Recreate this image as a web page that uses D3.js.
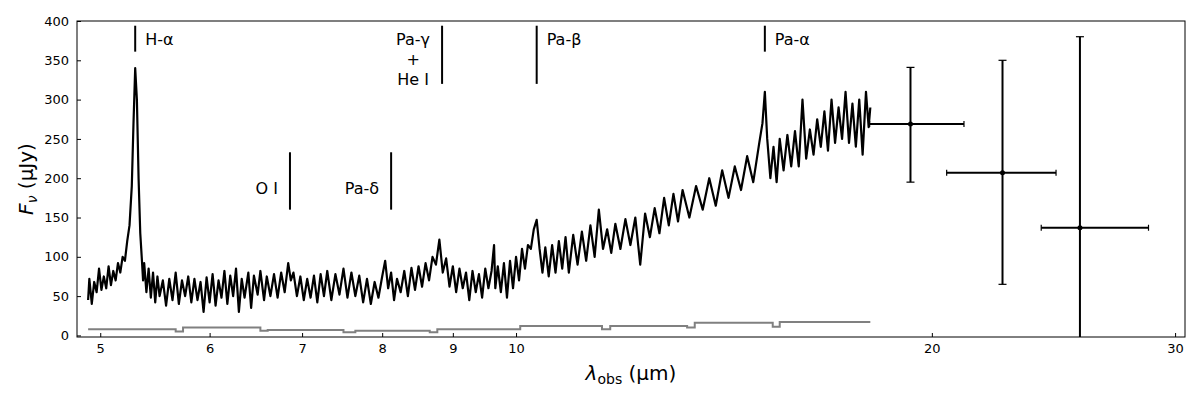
<!DOCTYPE html>
<html><head><meta charset="utf-8">
<script src="https://cdn.jsdelivr.net/npm/d3@7"></script>
<style>body{margin:0;background:#fff}text{font-family:"DejaVu Sans",sans-serif}</style>
</head><body><svg id="c" width="1200" height="400"></svg>
<script>
// spectrum as [wavelength um, flux uJy]
let spec = [
[4.90,45],[4.91,72],[4.93,40],[4.95,68],[4.97,55],[4.99,85],[5.01,58],[5.03,75],[5.05,60],[5.07,88],[5.09,64],[5.11,82],[5.13,70],[5.15,92],[5.17,80],[5.19,100],[5.21,95],[5.23,120],[5.25,140],[5.27,190],[5.285,270],[5.30,340],[5.315,300],[5.33,200],[5.345,130],[5.36,95],[5.37,70],[5.38,92],[5.40,55],[5.42,85],[5.44,48],[5.46,80],[5.48,42],[5.50,75],[5.52,50],[5.55,70],[5.58,38],[5.61,72],[5.64,45],[5.67,80],[5.70,40],[5.73,70],[5.76,50],[5.79,75],[5.82,42],[5.85,72],[5.88,45],[5.91,68],[5.94,30],[5.97,74],[6.00,42],[6.03,78],[6.06,38],[6.09,70],[6.12,48],[6.15,82],[6.18,40],[6.21,76],[6.24,50],[6.27,85],[6.30,30],[6.33,72],[6.36,48],[6.40,80],[6.43,35],[6.46,76],[6.50,52],[6.53,82],[6.57,45],[6.60,75],[6.64,50],[6.68,78],[6.72,48],[6.76,80],[6.80,55],[6.84,92],[6.87,70],[6.90,80],[6.94,50],[6.98,75],[7.02,45],[7.06,72],[7.10,48],[7.14,76],[7.18,42],[7.22,78],[7.26,50],[7.30,82],[7.35,45],[7.40,78],[7.45,52],[7.50,85],[7.55,48],[7.60,80],[7.65,50],[7.70,76],[7.75,42],[7.80,72],[7.85,40],[7.90,68],[7.95,48],[8.00,75],[8.04,95],[8.08,60],[8.12,80],[8.16,45],[8.20,72],[8.25,55],[8.30,82],[8.35,50],[8.40,86],[8.45,58],[8.50,88],[8.55,62],[8.60,92],[8.65,70],[8.70,100],[8.75,90],[8.80,122],[8.85,80],[8.90,98],[8.95,62],[9.00,88],[9.05,55],[9.10,85],[9.15,60],[9.20,80],[9.25,45],[9.30,82],[9.35,55],[9.40,78],[9.45,48],[9.50,85],[9.55,60],[9.60,82],[9.64,115],[9.66,60],[9.70,88],[9.75,55],[9.80,92],[9.85,48],[9.90,95],[9.95,60],[10.00,100],[10.05,70],[10.10,110],[10.15,85],[10.20,115],[10.25,110],[10.30,135],[10.35,147],[10.40,110],[10.45,80],[10.50,112],[10.56,75],[10.62,115],[10.68,80],[10.74,120],[10.80,85],[10.86,125],[10.92,80],[11.00,128],[11.08,90],[11.16,132],[11.24,95],[11.32,140],[11.40,100],[11.48,160],[11.56,110],[11.64,135],[11.72,105],[11.80,142],[11.90,110],[12.00,148],[12.10,115],[12.20,150],[12.30,90],[12.40,155],[12.50,125],[12.60,162],[12.70,130],[12.80,175],[12.90,140],[13.00,180],[13.10,145],[13.20,185],[13.35,150],[13.50,190],[13.65,160],[13.80,200],[13.95,165],[14.10,210],[14.25,175],[14.40,215],[14.55,185],[14.70,228],[14.85,195],[15.00,245],[15.08,270],[15.14,310],[15.20,250],[15.28,200],[15.36,240],[15.44,195],[15.52,250],[15.62,210],[15.72,255],[15.82,215],[15.92,260],[16.02,215],[16.12,300],[16.22,225],[16.32,262],[16.42,230],[16.52,275],[16.62,240],[16.72,285],[16.82,235],[16.92,300],[17.02,245],[17.12,290],[17.22,250],[17.32,310],[17.42,245],[17.52,295],[17.62,240],[17.72,300],[17.82,230],[17.92,310],[18.00,265],[18.05,290]
];

// error / noise level (step)
let noiseWave = [4.90,5.67,5.74,6.53,6.61,7.50,7.65,8.66,8.77,10.07,11.54,11.70,13.30,13.47,15.34,15.52,18.05];
let noiseFlux = [8,5,10,6,7,4,6,4,8,12,8,12,10,16,11,17,17];

// photometry points
let photWave = [19.3, 22.5, 25.6];
let photLo   = [18.03, 20.5, 24.0];
let photHi   = [21.1, 24.6, 28.7];
let photFlux = [269, 207, 137];
let photErrLo = [195, 65, -100];
let photErrHi = [341, 350, 380];

// line markers
let lineNames = ['H-α', 'Pa-γ\n+\nHe I', 'Pa-β', 'Pa-α', 'O I', 'Pa-δ'];
let lineWave  = [5.30, 8.84, 10.35, 15.14, 6.86, 8.12];
let lineY0    = [361, 320, 320, 361, 160, 160];
let lineY1    = [394, 394, 394, 394, 233, 233];
let lineSide  = ['r', 'l', 'r', 'r', 'l', 'l'];

let xTicks = [5, 6, 7, 8, 9, 10, 20, 30];
let yTicks = [0, 50, 100, 150, 200, 250, 300, 350, 400];

let L = 77, R = 1185, T = 21, B = 337;
let svg = d3.select('#c');
let x = d3.scaleLog().domain([4.81, 30.5]).range([L, R]);
let y = d3.scaleLinear().domain([-2, 400]).range([B, T]);

svg.append('defs').append('clipPath').attr('id', 'clip')
   .append('rect').attr('x', L).attr('y', T).attr('width', R - L).attr('height', B - T);
let g = svg.append('g').attr('clip-path', 'url(#clip)');

g.append('path').datum(noiseWave.map((w, i) => [w, noiseFlux[i]]))
 .attr('fill', 'none').attr('stroke', '#808080').attr('stroke-width', 2)
 .attr('d', d3.line().x(d => x(d[0])).y(d => y(d[1])).curve(d3.curveStepAfter));

g.append('path').datum(spec)
 .attr('fill', 'none').attr('stroke', '#000').attr('stroke-width', 2.2).attr('stroke-linejoin', 'round')
 .attr('d', d3.line().x(d => x(d[0])).y(d => y(d[1])));

// photometry error bars
photWave.forEach(function(w, i) {
    let e = g.append('g').attr('stroke', '#000').attr('stroke-width', 2);
    e.append('line').attr('x1', x(photLo[i])).attr('x2', x(photHi[i])).attr('y1', y(photFlux[i])).attr('y2', y(photFlux[i]));
    e.append('line').attr('x1', x(w)).attr('x2', x(w)).attr('y1', y(photErrLo[i])).attr('y2', y(photErrHi[i]));
    [photLo[i], photHi[i]].forEach(v => e.append('line').attr('x1', x(v)).attr('x2', x(v))
        .attr('y1', y(photFlux[i]) - 3).attr('y2', y(photFlux[i]) + 3).attr('stroke-width', 1.2));
    [photErrLo[i], photErrHi[i]].forEach(v => e.append('line').attr('x1', x(w) - 4).attr('x2', x(w) + 4)
        .attr('y1', y(v)).attr('y2', y(v)).attr('stroke-width', 1.2));
    g.append('circle').attr('cx', x(w)).attr('cy', y(photFlux[i])).attr('r', 2.5).attr('fill', '#000');
});

// line markers and labels
lineWave.forEach(function(w, i) {
    svg.append('line').attr('x1', x(w)).attr('x2', x(w)).attr('y1', y(lineY0[i])).attr('y2', y(lineY1[i]))
       .attr('stroke', '#000').attr('stroke-width', 2);
    let parts = lineNames[i].split('\n');
    let left = lineSide[i] === 'l';
    let tx = left ? x(w) - 12 : x(w) + 10;
    let ty;
    if (parts.length > 1) ty = 45;
    else if (lineY1[i] > 300) ty = 45;
    else ty = 194;
    let t = svg.append('text').attr('font-size', 16);
    parts.forEach(function(p, j) {
        t.append('tspan').attr('x', parts.length > 1 ? tx - 17 : tx).attr('y', ty + j * 20)
         .attr('text-anchor', parts.length > 1 ? 'middle' : (left ? 'end' : 'start')).text(p);
    });
});

// axes
let xa = svg.append('g').attr('transform', 'translate(0,' + B + ')')
    .call(d3.axisBottom(x).tickValues(xTicks).tickFormat(d3.format('d')).tickSizeInner(-4).tickSizeOuter(0).tickPadding(7));
let ya = svg.append('g').attr('transform', 'translate(' + L + ',0)')
    .call(d3.axisLeft(y).tickValues(yTicks).tickSizeInner(-4).tickSizeOuter(0).tickPadding(8));
[xa, ya].forEach(a => { a.selectAll('text').attr('font-size', 13).attr('fill', '#000').style('font-family', 'DejaVu Sans'); a.select('.domain').remove(); });
svg.append('rect').attr('x', L).attr('y', T).attr('width', R - L).attr('height', B - T)
   .attr('fill', 'none').attr('stroke', '#000').attr('stroke-width', 1);

let xl = svg.append('text').attr('x', (L + R) / 2).attr('y', 380).attr('text-anchor', 'middle').attr('font-size', 20);
xl.append('tspan').attr('font-style', 'italic').text('λ');
xl.append('tspan').attr('font-size', 14).attr('dy', 4).text('obs');
xl.append('tspan').attr('dy', -4).text(' (μm)');

let yl = svg.append('text').attr('transform', 'translate(33,' + ((T + B) / 2) + ') rotate(-90)')
    .attr('text-anchor', 'middle').attr('font-size', 20);
yl.append('tspan').attr('font-style', 'italic').text('F');
yl.append('tspan').attr('font-style', 'italic').attr('font-size', 14).attr('dy', 4).text('ν');
yl.append('tspan').attr('dy', -4).text(' (μJy)');
</script></body></html>
